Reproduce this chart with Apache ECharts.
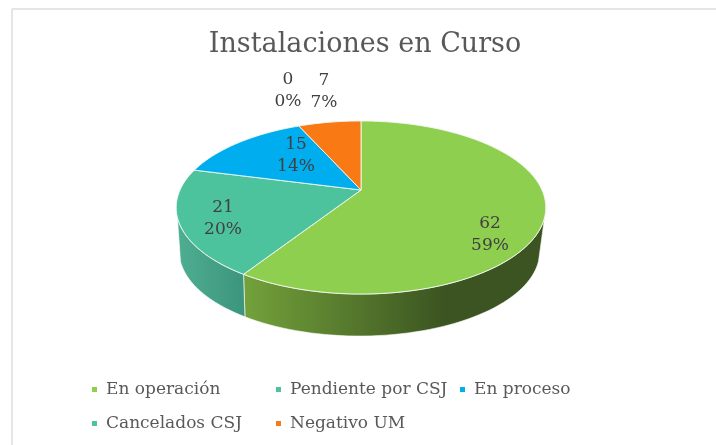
<!DOCTYPE html>
<html><head><meta charset="utf-8">
<style>html,body{margin:0;padding:0;background:#fff}#c{width:716px;height:445px;filter:blur(0.45px)}</style>
<script src="https://cdn.jsdelivr.net/npm/echarts@6/dist/echarts.min.js"></script>
</head><body><div id="c"></div>
<script>
// Data
const categories = ['En operación','Pendiente por CSJ','En proceso','Cancelados CSJ','Negativo UM'];
const values = [62,21,15,0,7];
const titleText = 'Instalaciones en Curso';
// Style
const colors = ['#8fcf50','#4dc39d','#00aeef','#4dc39d','#f97a14'];
const wallStops = [
  [[0,'#72a03a'],[1,'#3b5421']],
  [[0,'#4eae90'],[1,'#3b937c']],null,null,null];
const wallRange = [[248,445],[178,248]];
// Layout
const CX=361, CY=190, K=181, A=83, P=0.2023, DEPTH=44.6, SHRINK=0.975, WALL_DX=-1.5, WALL_FROM=108, WALL_TO=252;
const labelOffsets = [[129,44.5],[-138,29],[-65,-34],[-73,-99],[-37,-98]];
const total = values.reduce((a,b)=>a+b,0);
function proj(deg,s,d,dx){
  const t=deg*Math.PI/180,u=Math.sin(t),v=-Math.cos(t),w=1-P*v;
  return [CX+dx+s*K*u/w, CY+d+s*A*v/w];
}
function arc(a0,a1,s,d,dx){
  const n=Math.max(2,Math.ceil(Math.abs(a1-a0)/2)),pts=[];
  for(let i=0;i<=n;i++)pts.push(proj(a0+(a1-a0)*i/n,s,d,dx));
  return pts;
}
const starts=[];let acc=0;
values.forEach(v=>{starts.push(acc);acc+=v;});
const series = categories.map((name,i)=>({
  type:'custom',name:name,coordinateSystem:'none',silent:true,animation:false,
  itemStyle:{color:colors[i]},
  data:[[values[i]]],
  renderItem:function(params,api){
    const val=api.value(0);
    const a0=starts[i]/total*360,a1=a0+val/total*360;
    const children=[];
    const w0=Math.max(a0,WALL_FROM),w1=Math.min(a1,WALL_TO);
    if(val>0&&wallStops[i]&&w1>w0){
      const pts=arc(w0,w1,1,0,0).concat(arc(w1,w0,SHRINK,DEPTH,WALL_DX));
      children.push({type:'polygon',shape:{points:pts},style:{
        fill:{type:'linear',x:wallRange[i][0],y:0,x2:wallRange[i][1],y2:0,global:true,
          colorStops:wallStops[i].map(s=>({offset:s[0],color:s[1]}))},
        stroke:'#ffffff',lineWidth:0.6}});
    }
    return {type:'group',children};
  }
}));
series.push({
  type:'custom',name:'__top',coordinateSystem:'none',silent:true,animation:false,
  data:values.map(v=>[v]),
  renderItem:function(params,api){
    const i=params.dataIndex,val=api.value(0);
    const a0=starts[i]/total*360,a1=a0+val/total*360;
    const children=[];
    if(val>0){
      children.push({type:'polygon',shape:{points:[[CX,CY]].concat(arc(a0,a1,1,0,0))},
        style:{fill:colors[i],stroke:'#f4f8f0',lineWidth:0.9}});
    }
    return {type:'group',children};
  }
});
series.push({
  type:'custom',name:'__labels',coordinateSystem:'none',silent:true,animation:false,z:5,
  data:values.map(v=>[v]),
  renderItem:function(params,api){
    const i=params.dataIndex,val=api.value(0);
    return {type:'text',x:CX+labelOffsets[i][0],y:CY+labelOffsets[i][1],style:{
      text:val+'\n'+Math.round(val/total*100)+'%',align:'center',verticalAlign:'middle',
      font:'17px "DejaVu Serif"',lineHeight:22,fill:'#404040'}};
  }
});
const legendBase={orient:'vertical',icon:'rect',padding:0,itemWidth:5,itemHeight:5,itemGap:17,selectedMode:false,
  textStyle:{fontFamily:'DejaVu Serif',fontSize:17,color:'#595959',padding:[0,0,0,4],lineHeight:17}};
const chart=echarts.init(document.getElementById('c'),null,{renderer:'canvas'});
chart.setOption({
  animation:false,backgroundColor:'#ffffff',
  title:{text:titleText,left:365,top:31,padding:0,textAlign:'center',
    textStyle:{fontFamily:'DejaVu Serif',fontWeight:'normal',fontSize:27,color:'#595959'}},
  legend:[
    Object.assign({},legendBase,{left:92,top:381,data:[categories[0],categories[3]]}),
    Object.assign({},legendBase,{left:276,top:381,data:[categories[1],categories[4]]}),
    Object.assign({},legendBase,{left:460,top:381,data:[categories[2]]})
  ],
  graphic:[
    {type:'line',silent:true,shape:{x1:12,y1:9,x2:716,y2:9},style:{stroke:'#e5e5e5',lineWidth:2}},
    {type:'line',silent:true,shape:{x1:12,y1:9,x2:12,y2:445},style:{stroke:'#e5e5e5',lineWidth:2}}
  ],
  series
});
</script></body></html>
